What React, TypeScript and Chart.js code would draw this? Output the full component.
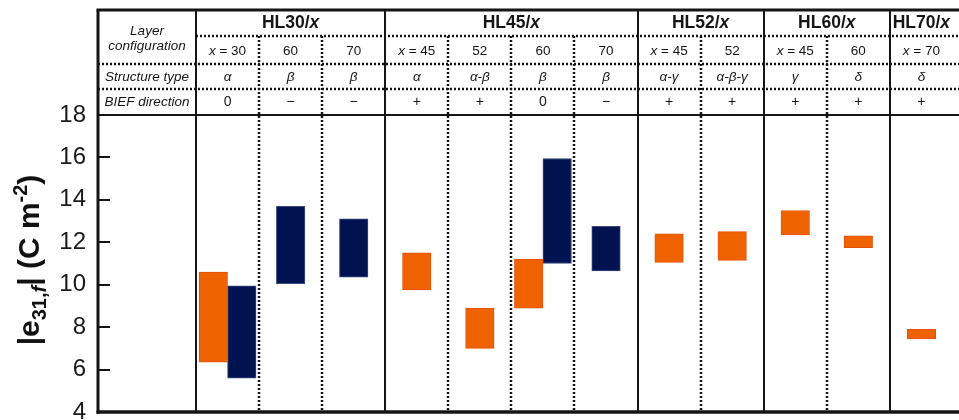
import { useEffect, useRef } from 'react';
import { Chart, registerables } from 'chart.js';

Chart.register(...registerables);

// Header table content, one entry per composition column
const groupNames = ['HL30', 'HL45', 'HL52', 'HL60', 'HL70'];
const groupSizes = [3, 4, 2, 2, 1];
const layerLabels = ['x = 30', '60', '70', 'x = 45', '52', '60', '70', 'x = 45', '52', 'x = 45', '60', 'x = 70'];
const structureTypes = ['α', 'β', 'β', 'α', 'α-β', 'β', 'β', 'α-γ', 'α-β-γ', 'γ', 'δ', 'δ'];
const biefDirections = ['0', '−', '−', '+', '+', '0', '−', '+', '+', '+', '+', '+'];

// |e31,f| ranges (C m^-2), [low, high] per column
const orangeRanges: ([number, number] | null)[] = [
  [6.35, 10.6], null, null, [9.75, 11.5], [7.0, 8.9], [8.9, 11.2], null,
  [11.05, 12.4], [11.15, 12.5], [12.35, 13.5], [11.75, 12.3], [7.45, 7.9],
];
const navyRanges: ([number, number] | null)[] = [
  [5.6, 9.95], [10.05, 13.7], [10.35, 13.1], null, null, [11.0, 15.95], [10.65, 12.75],
  null, null, null, null, null,
];

// y axis
const yMin = 4;
const yMax = 18;
const yStep = 2;

const FAMILY = '"Liberation Sans", Arial, Helvetica, sans-serif';
const INK = '#151515';

// width of the row-label column and the visible extent, in column units
const LABEL_COL = 1.5536;
const X_MAX = 12.096;

// header row geometry (px)
const TABLE_TOP = 10;
const ROW1_LINE = 36;
const ROW2_LINE = 64;
const ROW3_LINE = 89;

type Run = { text: string; font: string; dy?: number };

function runsWidth(ctx: CanvasRenderingContext2D, runs: Run[]) {
  let w = 0;
  for (const r of runs) {
    ctx.font = r.font;
    w += ctx.measureText(r.text).width;
  }
  return w;
}

function drawRuns(ctx: CanvasRenderingContext2D, runs: Run[], cx: number, y: number) {
  let x = cx - runsWidth(ctx, runs) / 2;
  ctx.textAlign = 'left';
  for (const r of runs) {
    ctx.font = r.font;
    ctx.fillText(r.text, x, y + (r.dy || 0));
    x += ctx.measureText(r.text).width;
  }
}

const cellFont = `13.5px ${FAMILY}`;
const cellItalic = `italic 13.5px ${FAMILY}`;

function layerRuns(label: string): Run[] {
  if (label.startsWith('x')) {
    return [
      { text: 'x', font: cellItalic },
      { text: label.slice(1), font: cellFont },
    ];
  }
  return [{ text: label, font: cellFont }];
}

function line(ctx: CanvasRenderingContext2D, x1: number, y1: number, x2: number, y2: number) {
  ctx.beginPath();
  ctx.moveTo(x1, y1);
  ctx.lineTo(x2, y2);
  ctx.stroke();
}

const tablePlugin = {
  id: 'compositionTable',
  beforeDatasetsDraw(chart: any) {
    const { ctx, chartArea, scales } = chart;
    const xs = scales.x;
    const px = (v: number) => Math.round(xs.getPixelForValue(v));
    const left = chartArea.left;
    const right = chart.width;
    const bottom = chartArea.bottom;

    ctx.save();
    ctx.strokeStyle = INK;

    // group boundaries (solid) and column boundaries (dotted)
    const groupEdges: number[] = [];
    let acc = 0;
    for (const n of groupSizes) {
      groupEdges.push(acc);
      acc += n;
    }
    ctx.lineWidth = 2;
    ctx.setLineDash([]);
    for (const g of groupEdges) line(ctx, px(g), TABLE_TOP, px(g), bottom);

    ctx.lineWidth = 2.5;
    ctx.setLineDash([2, 2]);
    for (let i = 1; i < layerLabels.length; i++) {
      if (groupEdges.includes(i)) continue;
      line(ctx, px(i), ROW1_LINE, px(i), bottom);
    }
    line(ctx, px(0), ROW1_LINE, right, ROW1_LINE);
    line(ctx, left, ROW2_LINE, right, ROW2_LINE);
    line(ctx, left, ROW3_LINE, right, ROW3_LINE);

    // header / plot separator
    ctx.setLineDash([]);
    ctx.lineWidth = 2;
    line(ctx, left, chartArea.top, right, chartArea.top);
    ctx.restore();
  },
  afterDraw(chart: any) {
    const { ctx, chartArea, scales } = chart;
    const xs = scales.x;
    const ys = scales.y;
    const px = (v: number) => xs.getPixelForValue(v);
    const left = chartArea.left;
    const right = chart.width;
    const bottom = chartArea.bottom;

    ctx.save();
    ctx.strokeStyle = INK;
    ctx.setLineDash([]);

    // frame: top border, left axis, bottom axis
    ctx.lineWidth = 3;
    line(ctx, left - 1.5, TABLE_TOP, right, TABLE_TOP);
    line(ctx, left, TABLE_TOP, left, bottom + 2);
    ctx.lineWidth = 3.5;
    line(ctx, left - 1.5, bottom, right, bottom);

    // inward tick marks
    ctx.lineWidth = 2;
    for (let v = yMin + yStep; v < yMax; v += yStep) {
      const y = Math.round(ys.getPixelForValue(v));
      line(ctx, left, y, left + 12, y);
    }

    // header text
    ctx.fillStyle = INK;
    ctx.textBaseline = 'middle';
    const labelCx = (left + px(0)) / 2;
    drawRuns(ctx, [{ text: 'Layer', font: cellItalic }], labelCx, 31);
    drawRuns(ctx, [{ text: 'configuration', font: cellItalic }], labelCx, 46.5);
    drawRuns(ctx, [{ text: 'Structure type', font: cellItalic }], labelCx, 77.5);
    drawRuns(ctx, [{ text: 'BIEF direction', font: cellItalic }], labelCx, 102);

    let start = 0;
    groupNames.forEach((name, gi) => {
      const n = groupSizes[gi];
      const cx = (px(start) + px(start + n)) / 2;
      drawRuns(
        ctx,
        [
          { text: `${name}/`, font: `bold 17.5px ${FAMILY}` },
          { text: 'x', font: `bold italic 17.5px ${FAMILY}` },
        ],
        cx,
        23,
      );
      start += n;
    });

    layerLabels.forEach((lab, i) => {
      const cx = px(i + 0.5);
      drawRuns(ctx, layerRuns(lab), cx, 51);
      drawRuns(ctx, [{ text: structureTypes[i], font: cellItalic }], cx, 77.5);
      drawRuns(ctx, [{ text: biefDirections[i], font: `14px ${FAMILY}` }], cx, 102);
    });

    // y axis title: |e31,f| (C m-2)
    const big = `bold 30px ${FAMILY}`;
    const small = `bold 20px ${FAMILY}`;
    const smallIt = `bold italic 20px ${FAMILY}`;
    const titleRuns: Run[] = [
      { text: '|e', font: big },
      { text: '31,', font: small, dy: 7 },
      { text: 'f', font: smallIt, dy: 7 },
      { text: '| (C m', font: big },
      { text: '-2', font: small, dy: -12 },
      { text: ')', font: big },
    ];
    ctx.translate(39, 260);
    ctx.rotate(-Math.PI / 2);
    ctx.textBaseline = 'alphabetic';
    ctx.fillStyle = '#111';
    drawRuns(ctx, titleRuns, 0, 0);
    ctx.restore();
  },
};

function toPoints(ranges: ([number, number] | null)[]) {
  return ranges.map((r, i) => ({ x: i + 0.5, y: r }));
}

export default function App() {
  const canvasRef = useRef<HTMLCanvasElement>(null);

  useEffect(() => {
    const canvas = canvasRef.current;
    if (!canvas) return;
    const chart = new Chart(canvas, {
      type: 'bar',
      data: {
        datasets: [
          {
            label: 'orange',
            data: toPoints(orangeRanges) as any,
            backgroundColor: '#EE6300',
            borderColor: '#E4520C',
            borderWidth: 1,
            borderSkipped: false,
            barThickness: 28.5,
            skipNull: true,
          },
          {
            label: 'navy',
            data: toPoints(navyRanges) as any,
            backgroundColor: '#001250',
            borderColor: '#3C4A82',
            borderWidth: 1,
            borderSkipped: false,
            barThickness: 28.5,
            skipNull: true,
          },
        ],
      },
      options: {
        responsive: false,
        animation: false,
        devicePixelRatio: 1,
        layout: { padding: { top: 115, bottom: 8, left: 0, right: 0 } },
        plugins: {
          legend: { display: false },
          tooltip: { enabled: false },
        },
        scales: {
          x: {
            type: 'linear',
            min: -LABEL_COL,
            max: X_MAX,
            offset: false,
            display: false,
          },
          y: {
            min: yMin,
            max: yMax,
            grid: { display: false, drawTicks: false },
            border: { display: false },
            ticks: {
              stepSize: yStep,
              padding: 12,
              color: '#1a1a1a',
              font: { family: FAMILY, size: 24 },
            },
            afterFit(scale: any) {
              scale.width = 98;
              scale.paddingTop = 0;
              scale.paddingBottom = 0;
            },
          },
        },
      },
      plugins: [tablePlugin],
    });
    return () => chart.destroy();
  }, []);

  return (
    <div style={{ position: 'absolute', left: 0, top: 0, width: 959, height: 420, background: '#fff' }}>
      <canvas ref={canvasRef} width={959} height={420} />
    </div>
  );
}
